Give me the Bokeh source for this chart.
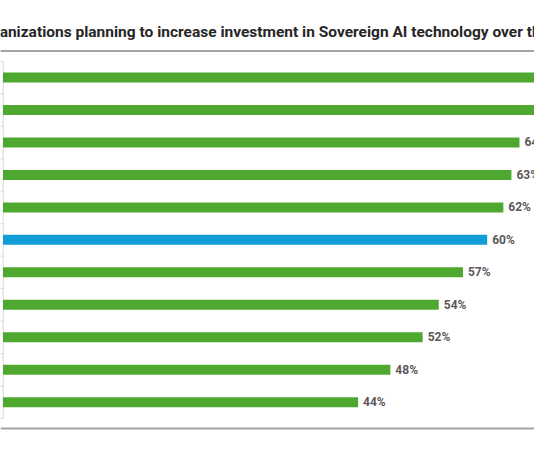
from bokeh.plotting import figure
from bokeh.models import Range1d, ColumnDataSource, Span
from bokeh.core.properties import value
from bokeh.embed import file_html
from bokeh.resources import INLINE

# ---- data (top to bottom) ----
categories = ["C1", "C2", "C3", "C4", "C5", "Overall", "C7", "C8", "C9", "C10", "C11"]
values = [69, 67, 64, 63, 62, 60, 57, 54, 52, 48, 44]
highlight = "Overall"
title_text = "organizations planning to increase investment in Sovereign AI technology over the"

GREEN = "#4ea72e"
BLUE = "#139dd8"

W, H = 534, 454
# pixel geometry of the reference
X0_PX, PX_PER_PCT = 2.5, 8.07
Y0_PX, PX_PER_CAT = 77.0, 32.47

n = len(categories)
# y grows upward: first category at the top (position n-1), last at 0
def ypx(px):
    return (n - 1) - (px - Y0_PX) / PX_PER_CAT

def xpx(px):
    return (px - X0_PX) / PX_PER_PCT

x_start, x_end = xpx(0), xpx(W)
y_start, y_end = ypx(H), ypx(0)

pos = [n - 1 - i for i in range(n)]
colors = [BLUE if c == highlight else GREEN for c in categories]

src = ColumnDataSource(dict(y=pos, v=values, color=colors, cat=categories))

# labels only for bars whose end lies inside the visible area (as in the cropped reference)
lab_y = [yy for yy, v in zip(pos, values) if v < x_end]
lab_v = [v for v in values if v < x_end]
lab_src = ColumnDataSource(dict(y=lab_y, v=lab_v, label=[f"{v}%" for v in lab_v]))

p = figure(width=W, height=H, output_backend="svg", toolbar_location=None,
           x_range=Range1d(x_start, x_end), y_range=Range1d(y_start, y_end),
           min_border=0, min_border_left=0, min_border_right=0,
           min_border_top=0, min_border_bottom=0)
p.title.visible = False
p.axis.visible = False
p.grid.visible = False
p.outline_line_color = None
p.background_fill_color = "white"
p.border_fill_color = "white"

# category axis line and boundary ticks
p.segment(x0=[xpx(2.7)], y0=[-0.5], x1=[xpx(2.7)], y1=[n - 0.5], line_color="#d9d9d9", line_width=1)
bounds = [i - 0.5 for i in range(n + 1)]
p.segment(x0=[xpx(-1)] * len(bounds), y0=bounds, x1=[xpx(2.7)] * len(bounds), y1=bounds,
          line_color="#d9d9d9", line_width=1)

# bars
p.hbar(y="y", left=0, right="v", height=10 / PX_PER_CAT, fill_color="color",
       line_color=None, source=src)

# value labels
p.text(x="v", y="y", text="label", source=lab_src, x_offset=5, text_align="left",
       text_baseline="middle", text_font=value("Roboto"), text_font_style="bold",
       text_font_size="12px", text_color="#595959")

# title (cut off at both sides as in the reference)
p.text(x=[xpx(-24)], y=[ypx(31)], text=[title_text], text_align="left", text_baseline="middle",
       text_font=value("Roboto"), text_font_style="bold", text_font_size="15.5px",
       text_color="#262626")

# horizontal rules under the title and at the bottom (drawn last, on top)
p.segment(x0=[x_start, x_start], y0=[ypx(50.5), ypx(428)], x1=[x_end, x_end],
          y1=[ypx(50.5), ypx(428)], line_color="#a3a3a3", line_width=2)
p.add_layout(Span(location=ypx(50.5), dimension="width", line_color="#a3a3a3", line_width=2))

open("out.html", "w").write(file_html(p, INLINE))
